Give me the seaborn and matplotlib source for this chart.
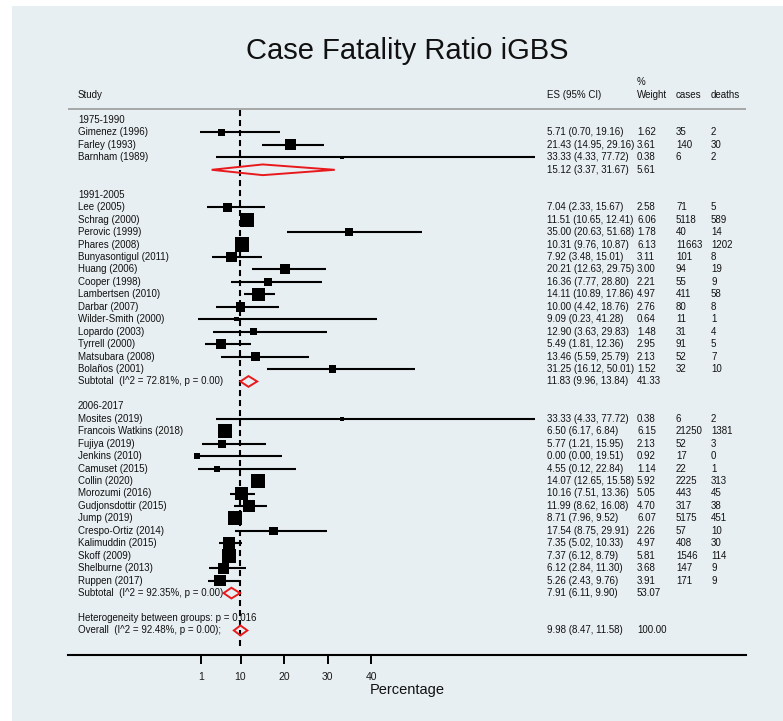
import matplotlib
matplotlib.use("Agg")
import matplotlib.pyplot as plt
from matplotlib.patches import Rectangle
from matplotlib.transforms import blended_transform_factory
import pandas as pd
import seaborn as sns

# ---- data -------------------------------------------------------------
periods = ["1975-1990", "1991-2005", "2006-2017"]

studies = [
    "Gimenez (1996)", "Farley (1993)", "Barnham (1989)",
    "Lee (2005)", "Schrag (2000)", "Perovic (1999)", "Phares (2008)",
    "Bunyasontigul (2011)", "Huang (2006)", "Cooper (1998)",
    "Lambertsen (2010)", "Darbar (2007)", "Wilder-Smith (2000)",
    "Lopardo (2003)", "Tyrrell (2000)", "Matsubara (2008)", "Bolaños (2001)",
    "Mosites (2019)", "Francois Watkins (2018)", "Fujiya (2019)",
    "Jenkins (2010)", "Camuset (2015)", "Collin (2020)", "Morozumi (2016)",
    "Gudjonsdottir (2015)", "Jump (2019)", "Crespo-Ortiz (2014)",
    "Kalimuddin (2015)", "Skoff (2009)", "Shelburne (2013)", "Ruppen (2017)",
]
period_idx = [0] * 3 + [1] * 14 + [2] * 14

es = [5.71, 21.43, 33.33,
      7.04, 11.51, 35.00, 10.31, 7.92, 20.21, 16.36, 14.11, 10.00, 9.09,
      12.90, 5.49, 13.46, 31.25,
      33.33, 6.50, 5.77, 0.00, 4.55, 14.07, 10.16, 11.99, 8.71, 17.54,
      7.35, 7.37, 6.12, 5.26]
ci_low = [0.70, 14.95, 4.33,
          2.33, 10.65, 20.63, 9.76, 3.48, 12.63, 7.77, 10.89, 4.42, 0.23,
          3.63, 1.81, 5.59, 16.12,
          4.33, 6.17, 1.21, 0.00, 0.12, 12.65, 7.51, 8.62, 7.96, 8.75,
          5.02, 6.12, 2.84, 2.43]
ci_high = [19.16, 29.16, 77.72,
           15.67, 12.41, 51.68, 10.87, 15.01, 29.75, 28.80, 17.86, 18.76,
           41.28, 29.83, 12.36, 25.79, 50.01,
           77.72, 6.84, 15.95, 19.51, 22.84, 15.58, 13.36, 16.08, 9.52,
           29.91, 10.33, 8.79, 11.30, 9.76]
weight = [1.62, 3.61, 0.38,
          2.58, 6.06, 1.78, 6.13, 3.11, 3.00, 2.21, 4.97, 2.76, 0.64,
          1.48, 2.95, 2.13, 1.52,
          0.38, 6.15, 2.13, 0.92, 1.14, 5.92, 5.05, 4.70, 6.07, 2.26,
          4.97, 5.81, 3.68, 3.91]
cases = [35, 140, 6,
         71, 5118, 40, 11663, 101, 94, 55, 411, 80, 11, 31, 91, 52, 32,
         6, 21250, 52, 17, 22, 2225, 443, 317, 5175, 57, 408, 1546, 147, 171]
deaths = [2, 30, 2,
          5, 589, 14, 1202, 8, 19, 9, 58, 8, 1, 4, 5, 7, 10,
          2, 1381, 3, 0, 1, 313, 45, 38, 451, 10, 30, 114, 9, 9]

sub_es = [15.12, 11.83, 7.91]
sub_low = [3.37, 9.96, 6.11]
sub_high = [31.67, 13.84, 9.90]
sub_weight = [5.61, 41.33, 53.07]
sub_labels = ["",
              "Subtotal  (I^2 = 72.81%, p = 0.00)",
              "Subtotal  (I^2 = 92.35%, p = 0.00)"]

overall_es, overall_low, overall_high, overall_weight = 9.98, 8.47, 11.58, 100.00
overall_label = "Overall  (I^2 = 92.48%, p = 0.00);"
het_label = "Heterogeneity between groups: p = 0.016"

x_ticks = [1, 10, 20, 30, 40]

# ---- row layout -------------------------------------------------------
study_rows = [0] * len(studies)
header_rows, sub_rows = [], []
row = 0
for g in range(len(periods)):
    header_rows.append(row)
    row += 1
    for i, p in enumerate(period_idx):
        if p == g:
            study_rows[i] = row
            row += 1
    sub_rows.append(row)
    row += 2
het_row = row
overall_row = row + 1

df = pd.DataFrame({"study": studies, "es": es, "lo": ci_low, "hi": ci_high,
                   "weight": weight, "row": study_rows})

# ---- figure -----------------------------------------------------------
sns.set_style("white")
plt.rcParams["font.family"] = ["Liberation Sans", "DejaVu Sans"]

W, H = 783, 721
fig = plt.figure(figsize=(W / 100, H / 100), dpi=100)
fig.patch.set_facecolor("white")
bg = "#e8eff2"
fig.patches.append(Rectangle((12 / W, -0.05), 1.1, 1.05 - 6 / H,
                             transform=fig.transFigure, facecolor=bg,
                             edgecolor="none", zorder=-10))

ax_left, ax_right = 68, 746
ax_top, ax_bottom = 60, 655
ax = fig.add_axes([ax_left / W, (H - ax_bottom) / H,
                   (ax_right - ax_left) / W, (ax_bottom - ax_top) / H])
ax.set_facecolor("none")

x0_px, px_per_unit = 197.0, 4.35
ax.set_xlim((ax_left - x0_px) / px_per_unit, (ax_right - x0_px) / px_per_unit)
row0_px, row_px = 120.0, 12.45
ax.set_ylim((ax_bottom - row0_px) / row_px, (ax_top - row0_px) / row_px)

def prow(px):
    return (px - row0_px) / row_px

# confidence intervals and weighted squares
ax.hlines(df["row"], df["lo"], df["hi"], color="black", lw=1.5, zorder=3)
sns.scatterplot(data=df, x="es", y="row", size="weight",
                sizes={w: 17.0 * w for w in weight}, marker="s",
                color="black", linewidth=0, legend=False, ax=ax, zorder=4)

red = "#e8191c"

def diamond(lo, mid, hi, y, h=0.43):
    ax.fill([lo, mid, hi, mid, lo], [y, y - h, y, y + h, y], fill=False,
            edgecolor=red, lw=1.4, zorder=5)

for g in range(len(periods)):
    diamond(sub_low[g], sub_es[g], sub_high[g], sub_rows[g])
diamond(overall_low, overall_es, overall_high, overall_row, h=0.4)

# reference line at the overall estimate
ax.vlines(overall_es, prow(110), prow(646), colors="black", lw=1.5,
          linestyles=(0, (2.9, 1.9)), zorder=2)

# header rule
ax.axhline(prow(109), color="#9a9a9a", lw=1.2)

# axis styling
sns.despine(ax=ax, left=True, top=True, right=True)
ax.spines["bottom"].set_color("black")
ax.spines["bottom"].set_linewidth(1.5)
ax.set_yticks([])
ax.set_xticks(x_ticks)
ax.set_xticklabels([str(t) for t in x_ticks])
ax.tick_params(axis="x", bottom=True, length=6.5, width=1.4, color="black",
               direction="out", labelsize=7.5, pad=5.5, labelcolor="#1a1a1a")
ax.set_xlabel("")
ax.set_ylabel("")

# ---- text columns -----------------------------------------------------
tr = blended_transform_factory(fig.transFigure, ax.transData)
fs = 7
col_label, col_es, col_w, col_cases, col_deaths = 78, 547, 637, 676, 711
tc = "#111111"

def put(px, y, s):
    ax.text(px / W, y, s, transform=tr, fontsize=fs, color=tc,
            ha="left", va="center")

put(col_label, prow(95), "Study")
put(col_es, prow(95), "ES (95% CI)")
put(col_w, prow(82), "%")
put(col_w, prow(95), "Weight")
put(col_cases, prow(95), "cases")
put(col_deaths, prow(95), "deaths")

for g, name in enumerate(periods):
    put(col_label, header_rows[g], name)
    if sub_labels[g]:
        put(col_label, sub_rows[g], sub_labels[g])
    put(col_es, sub_rows[g],
        f"{sub_es[g]:.2f} ({sub_low[g]:.2f}, {sub_high[g]:.2f})")
    put(col_w, sub_rows[g], f"{sub_weight[g]:.2f}")

for i in range(len(studies)):
    r = study_rows[i]
    put(col_label, r, studies[i])
    put(col_es, r, f"{es[i]:.2f} ({ci_low[i]:.2f}, {ci_high[i]:.2f})")
    put(col_w, r, f"{weight[i]:.2f}")
    put(col_cases, r, str(cases[i]))
    put(col_deaths, r, str(deaths[i]))

put(col_label, het_row, het_label)
put(col_label, overall_row, overall_label)
put(col_es, overall_row,
    f"{overall_es:.2f} ({overall_low:.2f}, {overall_high:.2f})")
put(col_w, overall_row, f"{overall_weight:.2f}")

# titles
mid_x = (ax_left + ax_right) / 2 / W
fig.text(mid_x, 1 - 51 / H, "Case Fatality Ratio iGBS", fontsize=21,
         color="#111111", ha="center", va="center")
fig.text(mid_x, 1 - 690 / H, "Percentage", fontsize=10.5,
         color="#111111", ha="center", va="center")

fig.savefig("out.png", dpi=100, facecolor=fig.get_facecolor())
